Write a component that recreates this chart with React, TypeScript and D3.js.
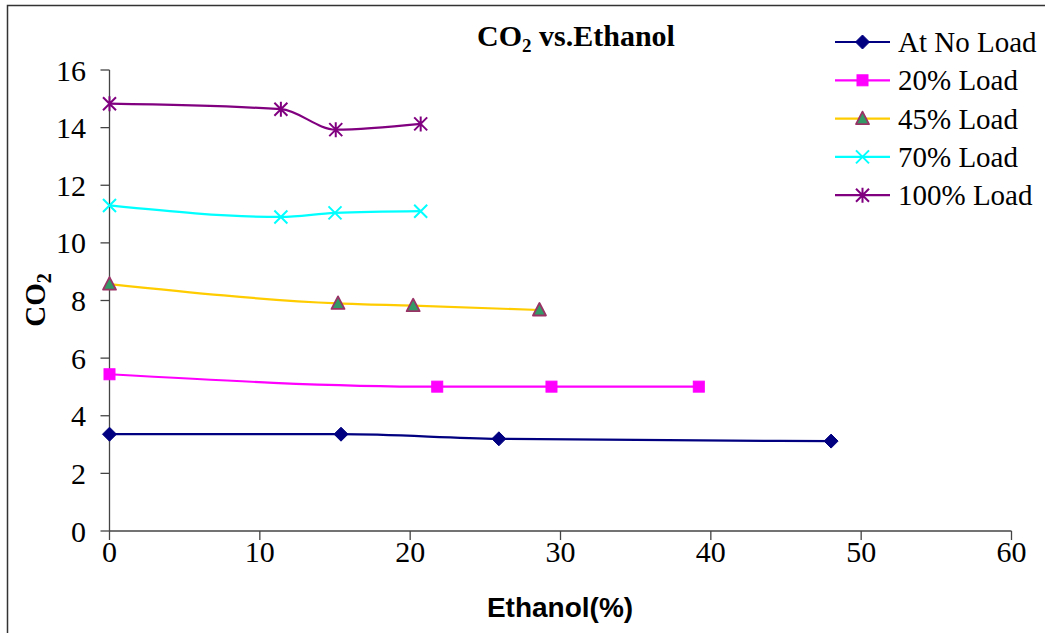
import React from "react";
import * as d3 from "d3";

const ethanolNoLoad = [0, 15.4, 25.9, 48.0];
const co2NoLoad = [3.36, 3.36, 3.2, 3.12];

const ethanol20 = [0, 21.8, 29.4, 39.2];
const co2_20 = [5.44, 5.01, 5.01, 5.01];

const ethanol45 = [0, 15.2, 20.2, 28.6];
const co2_45 = [8.57, 7.9, 7.82, 7.67];

const ethanol70 = [0, 11.4, 15.0, 20.7];
const co2_70 = [11.3, 10.9, 11.04, 11.1];

const ethanol100 = [0, 11.4, 15.05, 20.7];
const co2_100 = [14.83, 14.64, 13.93, 14.13];

const xTicks = [0, 10, 20, 30, 40, 50, 60];
const yTicks = [0, 2, 4, 6, 8, 10, 12, 14, 16];

const seriesNames = ["At No Load", "20% Load", "45% Load", "70% Load", "100% Load"];

type MarkerKind = "diamond" | "square" | "triangle" | "x" | "star";

interface Series {
  name: string;
  xs: number[];
  ys: number[];
  line: string;
  fill: string;
  stroke: string;
  marker: MarkerKind;
}

const series: Series[] = [
  { name: seriesNames[0], xs: ethanolNoLoad, ys: co2NoLoad, line: "#000080", fill: "#000080", stroke: "#000080", marker: "diamond" },
  { name: seriesNames[1], xs: ethanol20, ys: co2_20, line: "#FF00FF", fill: "#FF00FF", stroke: "#FF00FF", marker: "square" },
  { name: seriesNames[2], xs: ethanol45, ys: co2_45, line: "#FFCC00", fill: "#339966", stroke: "#993366", marker: "triangle" },
  { name: seriesNames[3], xs: ethanol70, ys: co2_70, line: "#00FFFF", fill: "none", stroke: "#00FFFF", marker: "x" },
  { name: seriesNames[4], xs: ethanol100, ys: co2_100, line: "#800080", fill: "none", stroke: "#800080", marker: "star" },
];

const W = 1045;
const H = 633;
const plot = { left: 109.5, right: 1011.5, top: 70, bottom: 531 };

const x = d3.scaleLinear().domain([0, 60]).range([plot.left, plot.right]);
const y = d3.scaleLinear().domain([0, 16]).range([plot.bottom, plot.top]);

const serif = "'Times New Roman', 'Liberation Serif', serif";
const sans = "Arial, 'Liberation Sans', sans-serif";

function Marker({ kind, cx, cy, fill, stroke }: { kind: MarkerKind; cx: number; cy: number; fill: string; stroke: string }) {
  const t = `translate(${cx},${cy})`;
  switch (kind) {
    case "diamond":
      return <path transform={t} d="M0,-7L7,0L0,7L-7,0Z" fill={fill} stroke={stroke} strokeWidth={1} />;
    case "square":
      return <rect transform={t} x={-5.5} y={-5.5} width={11} height={11} fill={fill} stroke={stroke} strokeWidth={1} />;
    case "triangle":
      return <path transform={t} d="M0,-7L6.5,5.5L-6.5,5.5Z" fill={fill} stroke={stroke} strokeWidth={1.8} strokeLinejoin="round" />;
    case "x":
      return <path transform={t} d="M-6.5,-6.5L6.5,6.5M-6.5,6.5L6.5,-6.5" fill="none" stroke={stroke} strokeWidth={2} />;
    case "star":
      return <path transform={t} d="M-6.5,-6.5L6.5,6.5M-6.5,6.5L6.5,-6.5M0,-7.5L0,7.5" fill="none" stroke={stroke} strokeWidth={2} />;
  }
}

export default function App() {
  const lineGen = d3
    .line<[number, number]>()
    .x((d) => x(d[0]))
    .y((d) => y(d[1]))
    .curve(d3.curveMonotoneX);

  const legendX = 835;
  const legendTop = 42;
  const legendStep = 38.3;

  return (
    <svg
      width={W}
      height={H}
      viewBox={`0 0 ${W} ${H}`}
      style={{ position: "absolute", left: 0, top: 0, background: "#fff" }}
    >
      <rect x={0} y={0} width={W} height={H} fill="#fff" />
      {/* chart frame: left and top edges, open at right and bottom */}
      <path d={`M7.5,${H}L7.5,5.5L${W},5.5`} fill="none" stroke="#333" strokeWidth={1.5} />

      {/* title */}
      <text x={576} y={46} textAnchor="middle" fontFamily={serif} fontWeight="bold" fontSize={30} fill="#000">
        CO<tspan fontSize={19} dy={6}>2</tspan>
        <tspan dy={-6}> vs.Ethanol</tspan>
      </text>

      {/* axes */}
      <line x1={plot.left} x2={plot.right} y1={plot.bottom} y2={plot.bottom} stroke="#444" strokeWidth={1.3} />
      <line x1={plot.left} x2={plot.left} y1={plot.top} y2={plot.bottom} stroke="#444" strokeWidth={1.3} />
      {xTicks.map((t) => (
        <g key={`xt${t}`}>
          <line x1={x(t)} x2={x(t)} y1={plot.bottom} y2={plot.bottom + 9} stroke="#444" strokeWidth={1.3} />
          <text x={x(t)} y={562} textAnchor="middle" fontFamily={serif} fontSize={30} fill="#000">
            {t}
          </text>
        </g>
      ))}
      {yTicks.map((t) => (
        <g key={`yt${t}`}>
          <line x1={plot.left - 9} x2={plot.left} y1={y(t)} y2={y(t)} stroke="#444" strokeWidth={1.3} />
          <text x={86} y={y(t) + 10.5} textAnchor="end" fontFamily={serif} fontSize={30} fill="#000">
            {t}
          </text>
        </g>
      ))}

      {/* axis titles */}
      <text
        transform="translate(45,300) rotate(-90)"
        textAnchor="middle"
        fontFamily={serif}
        fontWeight="bold"
        fontSize={29}
        fill="#000"
      >
        CO<tspan fontSize={20} dy={6}>2</tspan>
      </text>
      <text x={560} y={617} textAnchor="middle" fontFamily={sans} fontWeight="bold" fontSize={28} fill="#000">
        Ethanol(%)
      </text>

      {/* series */}
      {series.map((s) => {
        const pts = s.xs.map((v, i) => [v, s.ys[i]] as [number, number]);
        return (
          <g key={s.name}>
            <path d={lineGen(pts) ?? ""} fill="none" stroke={s.line} strokeWidth={2.2} />
            {pts.map((p, i) => (
              <Marker key={i} kind={s.marker} cx={x(p[0])} cy={y(p[1])} fill={s.fill} stroke={s.stroke} />
            ))}
          </g>
        );
      })}

      {/* legend */}
      {series.map((s, i) => {
        const cy = legendTop + i * legendStep;
        return (
          <g key={`lg${s.name}`}>
            <line x1={legendX} x2={legendX + 55} y1={cy} y2={cy} stroke={s.line} strokeWidth={2.2} />
            <Marker kind={s.marker} cx={legendX + 27.5} cy={cy} fill={s.fill} stroke={s.stroke} />
            <text x={legendX + 63} y={cy + 10} fontFamily={serif} fontSize={29} fill="#000">
              {s.name}
            </text>
          </g>
        );
      })}
    </svg>
  );
}
